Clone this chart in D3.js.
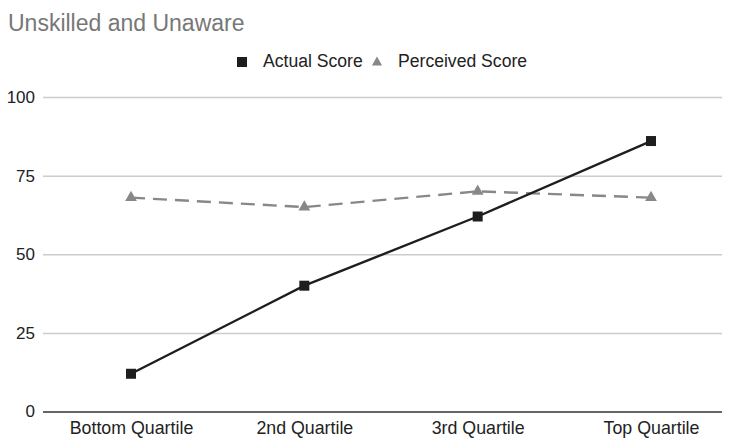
<!DOCTYPE html>
<html>
<head>
<meta charset="utf-8">
<script src="https://cdn.jsdelivr.net/npm/d3@7"></script>
<style>
  html, body { margin: 0; padding: 0; background: #fff; }
  svg { display: block; font-family: "Liberation Sans", Arial, Helvetica, sans-serif; }
</style>
</head>
<body>
<svg id="chart" width="733" height="439"></svg>
<script>
// Quartile groups and their scores (percentile)
const categories = ["Bottom Quartile", "2nd Quartile", "3rd Quartile", "Top Quartile"];
const actualScore = [12, 40, 62, 86];
const perceivedScore = [68, 65, 70, 68];
const yTicks = [0, 25, 50, 75, 100];
const seriesNames = ["Actual Score", "Perceived Score"];

const svg = d3.select("#chart");
const plot = { left: 43, right: 722, top: 97, bottom: 411.5 };
const labelFont = "Liberation Sans, Arial, sans-serif";

const x = d3.scalePoint().domain(categories).range([131, 651]);
const y = d3.scaleLinear().domain([0, 100]).range([plot.bottom, plot.top]);

// Title
svg.append("text")
  .attr("x", 8).attr("y", 31)
  .attr("font-size", 23)
  .attr("fill", "#777")
  .text("Unskilled and Unaware");

// Gridlines and y labels
const yAxis = d3.axisLeft(y).tickValues(yTicks).tickSize(-(plot.right - plot.left)).tickPadding(8);
const gy = svg.append("g").attr("transform", `translate(${plot.left},0)`).call(yAxis);
gy.select(".domain").remove();
gy.selectAll(".tick line")
  .attr("stroke", d => d === 0 ? "#333" : "#ccc")
  .attr("stroke-width", 1.5);
gy.selectAll(".tick text")
  .attr("font-size", 17)
  .attr("fill", "#222")
  .attr("font-family", labelFont);

// X labels
const xAxis = d3.axisBottom(x).tickSize(0).tickPadding(10);
const gx = svg.append("g").attr("transform", `translate(0,${plot.bottom})`).call(xAxis);
gx.select(".domain").remove();
gx.selectAll(".tick text")
  .attr("font-size", 17.8)
  .attr("fill", "#222")
  .attr("font-family", labelFont);

// Perceived score: dashed grey line with triangles
const line = d3.line().x((d, i) => x(categories[i])).y(d => y(d));
svg.append("path")
  .datum(perceivedScore)
  .attr("d", line)
  .attr("fill", "none")
  .attr("stroke", "#888")
  .attr("stroke-width", 2.4)
  .attr("stroke-dasharray", "14,8");

const tri = d3.symbol().type(d3.symbolTriangle).size(60);
svg.append("g").selectAll("path")
  .data(perceivedScore)
  .join("path")
  .attr("d", tri)
  .attr("transform", (d, i) => `translate(${x(categories[i])},${y(d)})`)
  .attr("fill", "#888");

// Actual score: solid dark line with squares
svg.append("path")
  .datum(actualScore)
  .attr("d", line)
  .attr("fill", "none")
  .attr("stroke", "#1e1e1e")
  .attr("stroke-width", 2.4);

svg.append("g").selectAll("rect")
  .data(actualScore)
  .join("rect")
  .attr("x", (d, i) => x(categories[i]) - 5)
  .attr("y", d => y(d) - 5)
  .attr("width", 10).attr("height", 10)
  .attr("fill", "#1e1e1e");

// Legend
const lg = svg.append("g");
lg.append("rect").attr("x", 237).attr("y", 57).attr("width", 10).attr("height", 10).attr("fill", "#1e1e1e");
lg.append("text").attr("x", 263).attr("y", 66.5).attr("font-size", 17.6).attr("fill", "#222").text(seriesNames[0]);
lg.append("path").attr("d", d3.symbol().type(d3.symbolTriangle).size(45)).attr("transform", "translate(377,62.5)").attr("fill", "#888");
lg.append("text").attr("x", 398).attr("y", 66.5).attr("font-size", 17.6).attr("fill", "#222").text(seriesNames[1]);
</script>
</body>
</html>
